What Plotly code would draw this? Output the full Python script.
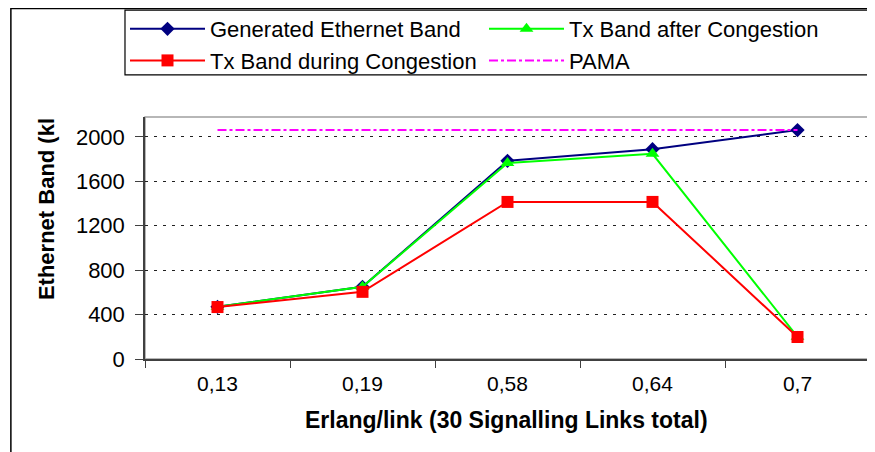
import plotly.graph_objects as go

# categories on the x axis (Erlang per link)
erlang = ['0,13', '0,19', '0,58', '0,64', '0,7']

# ethernet band values
generated = [470, 650, 1785, 1890, 2062]
tx_after = [470, 650, 1765, 1848, 200]
tx_during = [468, 605, 1415, 1415, 198]
pama = [2062, 2062, 2062, 2062, 2062]

y_ticks = [0, 400, 800, 1200, 1600, 2000]

fig = go.Figure()
fig.add_trace(go.Scatter(x=erlang, y=generated, name='Generated Ethernet Band', mode='lines+markers',
                         line=dict(color='#000080', width=2), legend='legend',
                         marker=dict(symbol='diamond', size=11, color='#000080')))
fig.add_trace(go.Scatter(x=erlang, y=tx_after, name='Tx Band after Congestion', mode='lines+markers',
                         line=dict(color='#00ff00', width=2), legend='legend2',
                         marker=dict(symbol='triangle-up', size=12, color='#00ff00')))
fig.add_trace(go.Scatter(x=erlang, y=tx_during, name='Tx Band during Congestion', mode='lines+markers',
                         line=dict(color='#ff0000', width=2), legend='legend',
                         marker=dict(symbol='square', size=12, color='#ff0000')))
fig.add_trace(go.Scatter(x=erlang, y=pama, name='PAMA', mode='lines', legend='legend2',
                         line=dict(color='#ff00ff', width=2, dash='dashdot')))

# outer chart frame, plot area border and legend box
fig.add_shape(type='rect', xref='paper', yref='paper', x0=-0.185, x1=1.2, y0=-0.45, y1=1.448,
              line=dict(color='black', width=1.5), layer='below')
fig.add_shape(type='rect', xref='paper', yref='paper', x0=0, x1=1, y0=0, y1=1,
              line=dict(color='#a0a0a0', width=1.5), layer='below')
fig.add_shape(type='rect', xref='paper', yref='paper', x0=-0.0276, x1=1.0, y0=1.174, y1=1.442,
              line=dict(color='black', width=1.2), fillcolor='white', layer='below')

# axis titles
fig.add_annotation(text='<b>Erlang/link (30 Signalling Links total)</b>', xref='paper', yref='paper',
                   x=0.499, y=-0.252, xanchor='center', yanchor='middle',
                   showarrow=False, font=dict(size=23))
fig.add_annotation(text='<b>Ethernet Band (kl</b>', xref='paper', yref='paper', textangle=-90,
                   x=-0.135, y=0.62, xanchor='center', yanchor='middle',
                   showarrow=False, font=dict(size=22))

legend_style = dict(yref='container', y=1.004, xref='container', yanchor='top', xanchor='left',
                    itemwidth=75, bgcolor='rgba(0,0,0,0)', borderwidth=0,
                    font=dict(size=22), tracegroupgap=0)

fig.update_layout(
    width=875, height=452,
    margin=dict(l=137, r=13, t=109, b=101, autoexpand=False),
    paper_bgcolor='white', plot_bgcolor='white',
    font=dict(family='Liberation Sans, Arial, sans-serif', size=22, color='black'),
    showlegend=True,
    legend=dict(x=117 / 875, **legend_style),
    legend2=dict(x=476 / 875, **legend_style),
)
fig.update_xaxes(type='category', showline=True, linecolor='#404040', linewidth=2,
                 ticks='outside', tickson='boundaries', ticklen=7, tickcolor='#404040',
                 showgrid=False, range=[-0.5, 4.5], tickfont=dict(size=21), ticklabelstandoff=5)
fig.update_yaxes(range=[0, 2180], tickvals=y_ticks, showline=True, linecolor='#404040', linewidth=1.5,
                 ticks='outside', ticklen=8, tickcolor='#404040', tickfont=dict(size=22),
                 ticklabelstandoff=6,
                 showgrid=True, gridcolor='#202020', griddash='3px,6px', gridwidth=1, zeroline=False)

fig.write_html("out.html")
